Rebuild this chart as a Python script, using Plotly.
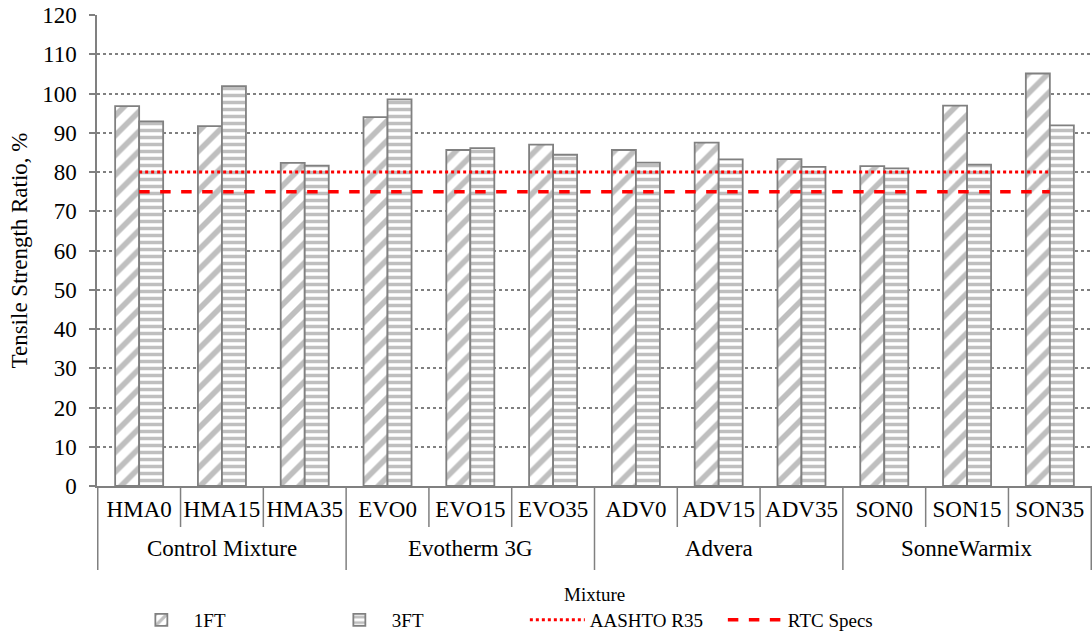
import plotly.graph_objects as go

# Mixture groups and individual mixes
groups = ["Control Mixture"] * 3 + ["Evotherm 3G"] * 3 + ["Advera"] * 3 + ["SonneWarmix"] * 3
mixes = ["HMA0", "HMA15", "HMA35", "EVO0", "EVO15", "EVO35",
         "ADV0", "ADV15", "ADV35", "SON0", "SON15", "SON35"]

# Tensile strength ratio (%) after one and three freeze-thaw cycles
tsr_1ft = [96.8, 91.7, 82.3, 94.0, 85.6, 87.0, 85.6, 87.5, 83.3, 81.5, 96.9, 105.1]
tsr_3ft = [92.9, 101.9, 81.6, 98.5, 86.1, 84.4, 82.4, 83.2, 81.3, 80.9, 81.9, 91.9]

# Specification limits
aashto_r35 = [80] * 12
rtc_specs = [75] * 12

FONT = "Liberation Serif"
GREY = "#808080"

fig = go.Figure()
fig.add_trace(go.Bar(
    name="1FT", x=mixes, y=tsr_1ft,
    marker=dict(color="white", line=dict(color=GREY, width=1.8),
                pattern=dict(shape="/", fgcolor=GREY, bgcolor="white", size=14, solidity=0.4)),
))
fig.add_trace(go.Bar(
    name="3FT", x=mixes, y=tsr_3ft,
    marker=dict(color="white", line=dict(color=GREY, width=1.8),
                pattern=dict(shape="-", fgcolor=GREY, bgcolor="white", size=7, solidity=0.5)),
))
fig.add_trace(go.Scatter(
    name="AASHTO R35", x=mixes, y=aashto_r35, mode="lines",
    line=dict(color="#FF0000", width=3, dash="dot"),
))
fig.add_trace(go.Scatter(
    name="RTC Specs", x=mixes, y=rtc_specs, mode="lines",
    line=dict(color="#FF0000", width=3.5, dash="dash"),
))

# Two-level category axis: short ticks between mixes, long dividers between groups
group_names = list(dict.fromkeys(groups))
boundaries = [-0.5] + [i + 0.5 for i in range(len(mixes))]
for b in boundaries:
    is_group_edge = (b == -0.5) or (int(b + 0.5) >= len(mixes)) or \
        groups[int(b - 0.5)] != groups[int(b + 0.5)]
    fig.add_shape(
        type="line", xref="x", yref="paper", ysizemode="pixel", yanchor=0,
        x0=b, x1=b, y0=0, y1=-84 if is_group_edge else -41,
        line=dict(color=GREY, width=1.5),
    )
for g in group_names:
    idx = [i for i, gg in enumerate(groups) if gg == g]
    fig.add_annotation(
        x=sum(idx) / len(idx), xref="x", y=0, yref="paper", yshift=-62,
        text=g, showarrow=False, yanchor="middle",
        font=dict(family=FONT, size=23, color="black"),
    )

# Axis title below the group labels
fig.add_annotation(
    x=0.5, xref="paper", y=0, yref="paper", yshift=-108,
    text="Mixture", showarrow=False, yanchor="middle",
    font=dict(family=FONT, size=19, color="black"),
)

fig.update_layout(
    width=1092, height=639,
    margin=dict(l=97, r=0, t=15, b=153, autoexpand=False),
    paper_bgcolor="white", plot_bgcolor="white",
    font=dict(family=FONT, size=23, color="black"),
    barmode="group", bargap=0.42, bargroupgap=0,
    legend=dict(orientation="h", x=0.43, xanchor="center", y=-0.006, yanchor="bottom",
                yref="container", font=dict(family=FONT, size=19), itemwidth=55,
                entrywidth=128, traceorder="normal"),
)
fig.update_xaxes(
    type="category", automargin=False,
    showline=True, linecolor=GREY, linewidth=1.5,
    ticks="", ticklabelstandoff=2, tickfont=dict(family=FONT, size=23),
    showgrid=False,
)
fig.update_yaxes(
    range=[0, 120], dtick=10, automargin=False,
    showline=True, linecolor=GREY, linewidth=1.5,
    ticks="outside", ticklen=6, tickcolor=GREY, tickwidth=1.5, ticklabelstandoff=8,
    showgrid=True, gridcolor=GREY, gridwidth=1.5, griddash="dot",
    zeroline=False,
    tickfont=dict(family=FONT, size=23),
    title=dict(text="Tensile Strength Ratio, %", font=dict(family=FONT, size=23), standoff=8),
)

fig.write_html("out.html")
